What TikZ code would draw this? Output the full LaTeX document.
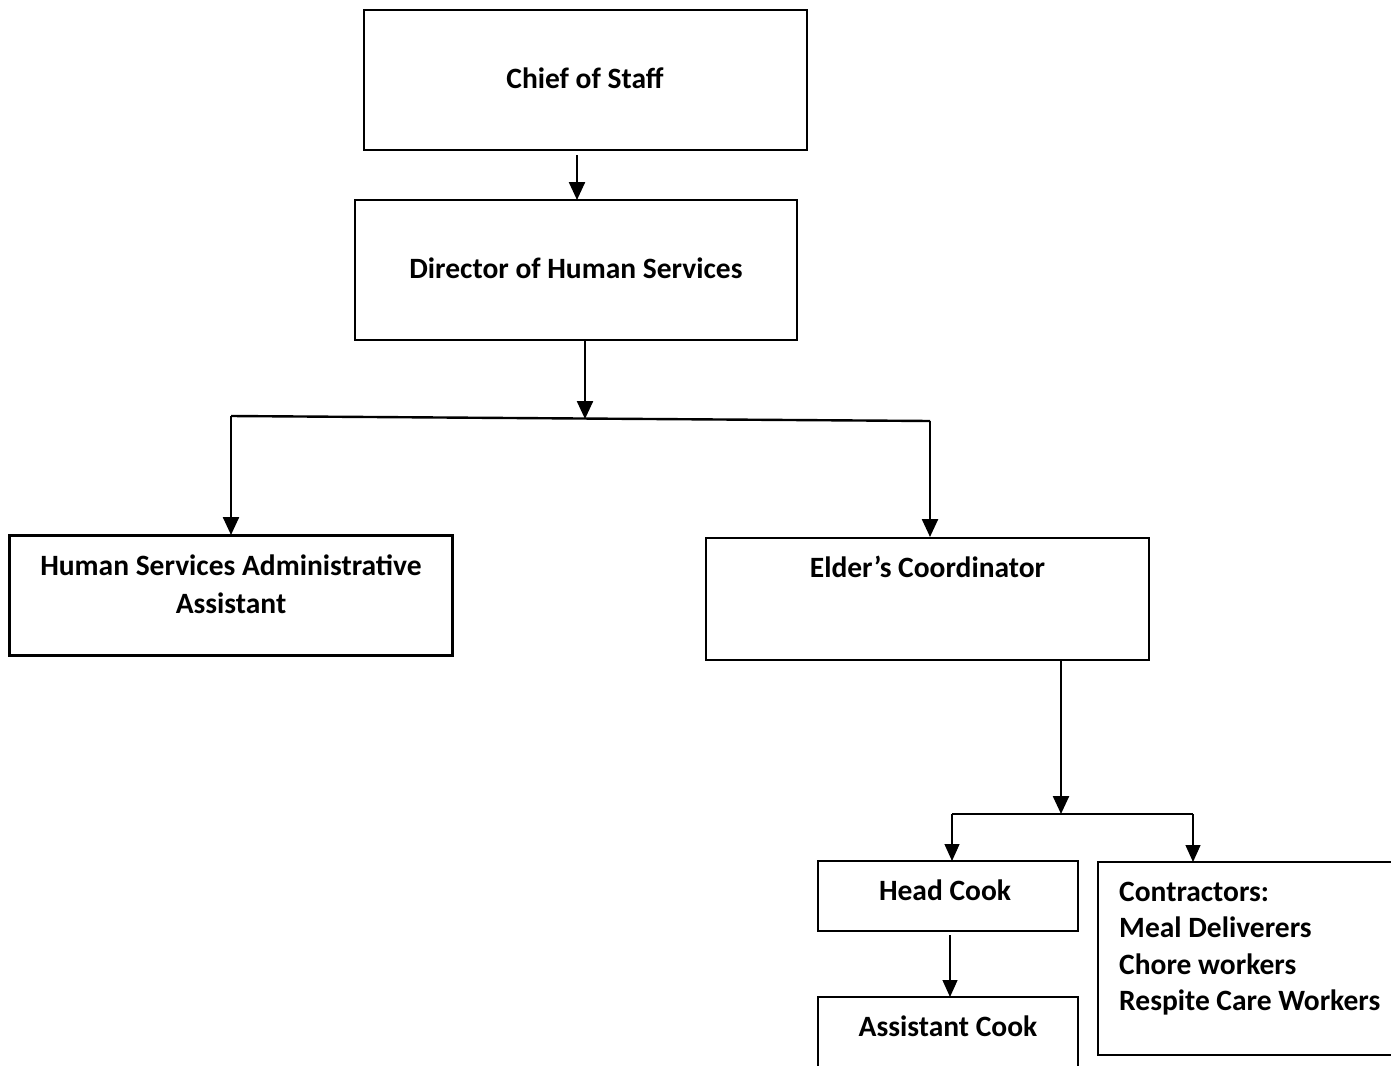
\documentclass[tikz,border=0pt]{standalone}
\usepackage{fontspec}
\setmainfont{Carlito}
\usetikzlibrary{arrows.meta,calc}
\tikzset{
  box/.style={draw=black, line width=2.2pt, rectangle, inner sep=0pt},
  thinbox/.style={draw=black, line width=1.6pt, rectangle, inner sep=0pt},
  lbl/.style={inner sep=0pt, font=\fontsize{29.5}{36.5}\selectfont\bfseries},
  conn/.style={line width=2.4pt, -{Triangle[width=16pt,length=18pt]}},
  thinconn/.style={line width=1.3pt, -{Triangle[width=15pt,length=17pt]}},
  bar/.style={line width=2.4pt},
  thinbar/.style={line width=1.3pt}
}
\begin{document}
\begin{tikzpicture}[x=1pt,y=-1pt]
\useasboundingbox (0,0) rectangle (1391,1065);
% boxes
\node[box, minimum width=443pt, minimum height=140pt] (chief) at (585.5,80) {};
\node[lbl] (chieft) at (585,78) {Chief of Staff};
\node[box, minimum width=442pt, minimum height=140pt] (dir) at (576,270) {};
\node[lbl] (dirt) at (576,268) {Director of Human Services};
\node[box, minimum width=443pt, minimum height=120pt] (hsaa) at (231,595.5) {};
\node[lbl, align=center, font=\fontsize{29.5}{38.5}\selectfont\bfseries] (hsaat) at (231,584) {Human Services Administrative\\Assistant};
\node[box, minimum width=443pt, minimum height=122pt] (elder) at (927.5,599) {};
\node[lbl] (eldert) at (927.5,567) {Elder’s Coordinator};
\node[thinbox, minimum width=260pt, minimum height=70pt] (head) at (948,896) {};
\node[lbl] (headt) at (945,890) {Head Cook};
\node[thinbox, minimum width=260pt, minimum height=90pt] (asst) at (948,1042) {};
\node[lbl] (asstt) at (948,1026) {Assistant Cook};
\node[box, minimum width=302pt, minimum height=193pt] (contr) at (1249,958.5) {};
\node[lbl, align=left, anchor=north west] (contrt) at (1119,881.5) {Contractors:\\Meal Deliverers\\Chore workers\\Respite Care Workers};
% connector coordinates
\coordinate (c1) at (577,155);
\coordinate (c2) at (577,200);
\coordinate (d1) at (585,340);
\coordinate (d2) at (585,419);
\coordinate (bl) at (231,416);
\coordinate (br) at (930,421);
\coordinate (bl2) at (231,535);
\coordinate (br2) at (930,537);
\coordinate (e1) at (1061,660);
\coordinate (e2) at (1061,814);
\coordinate (ll) at (952,814);
\coordinate (lr) at (1193,814);
\coordinate (ll2) at (952,861);
\coordinate (lr2) at (1193,862);
\coordinate (h1) at (950,935);
\coordinate (h2) at (950,997);
% connectors
\draw[conn] (c1) -- (c2);
\draw[conn] (d1) -- (d2);
\draw[bar] (bl) -- (br);
\draw[conn] (bl) -- (bl2);
\draw[conn] (br) -- (br2);
\draw[conn] (e1) -- (e2);
\draw[thinbar] (ll) -- (lr);
\draw[thinconn] (ll) -- (ll2);
\draw[thinconn] (lr) -- (lr2);
\draw[thinconn] (h1) -- (h2);
\end{tikzpicture}
\end{document}
